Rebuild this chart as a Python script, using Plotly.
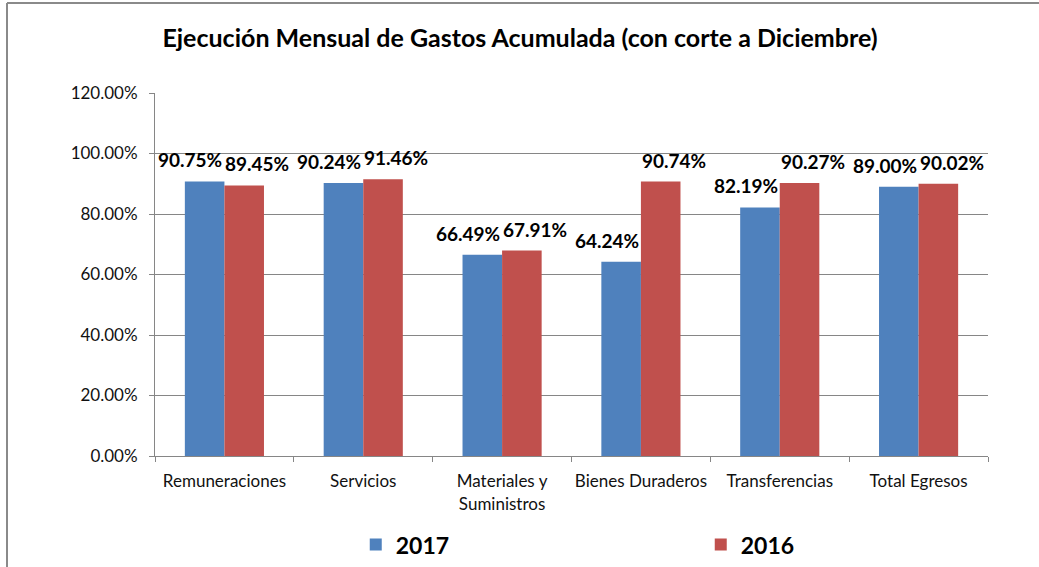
import plotly.graph_objects as go

categories = ["Remuneraciones", "Servicios", "Materiales y<br>Suministros",
              "Bienes Duraderos", "Transferencias", "Total Egresos"]
values_2017 = [90.75, 90.24, 66.49, 64.24, 82.19, 89.00]
values_2016 = [89.45, 91.46, 67.91, 90.74, 90.27, 90.02]
series_names = ["2017", "2016"]
y_ticks = [0, 20, 40, 60, 80, 100, 120]

FONT = "Lato, Carlito, Calibri, sans-serif"
BLUE = "#4F81BD"
RED = "#C0504D"
GRID = "#868686"

fig = go.Figure()
fig.add_trace(go.Bar(x=categories, y=values_2017, name="<b>" + series_names[0] + "</b>",
                     marker=dict(color=BLUE, line=dict(width=0))))
fig.add_trace(go.Bar(x=categories, y=values_2016, name="<b>" + series_names[1] + "</b>",
                     marker=dict(color=RED, line=dict(width=0))))

annotations = []
for vals, shift in ((values_2017, -34), (values_2016, 33)):
    for c, v in zip(categories, vals):
        annotations.append(dict(
            x=c, y=v, xref="x", yref="y", text="<b>" + f"{v:.2f}%" + "</b>",
            showarrow=False, xshift=shift, yshift=8, yanchor="bottom", xanchor="center",
            font=dict(family=FONT, size=19, color="#000000"),
        ))

L, R, T, B = 155, 51, 93, 111
PW = 1039 - L - R
PH = 567 - T - B
fy = (PH + T - 3) / PH
fx = (7 - L) / PW

fig.update_layout(
    width=1039, height=567,
    margin=dict(l=L, r=R, t=T, b=B, autoexpand=False),
    paper_bgcolor="white", plot_bgcolor="white",
    barmode="group", bargap=0.43, bargroupgap=0,
    title=dict(text="<b>Ejecución Mensual de Gastos Acumulada (con corte a Diciembre)</b>",
               x=0.5005, xref="container", xanchor="center",
               y=0.933, yref="container", yanchor="middle",
               font=dict(family=FONT, size=25, color="#000000")),
    font=dict(family=FONT, color="#111111"),
    showlegend=True,
    legend=dict(orientation="h", x=0.241, xanchor="left", y=-0.185, yanchor="top",
                entrywidth=300, entrywidthmode="pixels",
                font=dict(family=FONT, size=23, color="#000000"),
                itemclick=False, traceorder="normal"),
    annotations=annotations,
    shapes=[
        dict(type="line", xref="paper", yref="paper",
             x0=fx, x1=1.2, y0=fy, y1=fy,
             line=dict(color="#8a8a8a", width=2)),
        dict(type="line", xref="paper", yref="paper",
             x0=fx, x1=fx, y0=fy, y1=-0.5,
             line=dict(color="#8a8a8a", width=2)),
    ],
)

fig.update_yaxes(range=[0, 120], tickvals=y_ticks,
                 ticktext=[f"{v:.2f}%" for v in y_ticks],
                 showgrid=True, gridcolor=GRID, gridwidth=1,
                 showline=True, linecolor=GRID, linewidth=1,
                 ticks="outside", ticklen=5, tickcolor=GRID, ticklabelstandoff=8,
                 tickfont=dict(family=FONT, size=17, color="#111111"),
                 zeroline=False, automargin=False)
fig.update_xaxes(showline=True, linecolor=GRID, linewidth=1,
                 ticks="outside", ticklen=5, tickcolor=GRID, tickson="boundaries",
                 tickangle=0, ticklabelstandoff=10,
                 tickfont=dict(family=FONT, size=17, color="#111111"),
                 automargin=False)

fig.write_html("out.html", config={"displayModeBar": False},
               post_script="document.body.style.margin='0';")
